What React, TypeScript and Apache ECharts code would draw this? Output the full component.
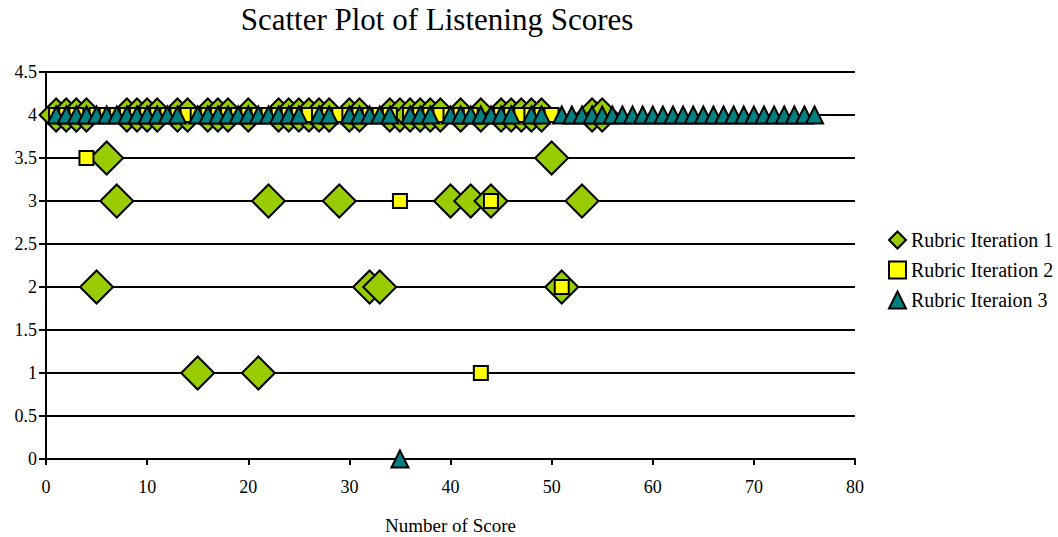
import React, { useEffect, useRef } from "react";
import * as echarts from "echarts";

const chartTitle = "Scatter Plot of Listening Scores";
const xAxisName = "Number of Score";
const seriesNames = ["Rubric Iteration 1", "Rubric Iteration 2", "Rubric Iteraion 3"];

// [number of score, score]
const iteration1: number[][] = [
  [1, 4], [2, 4], [3, 4], [4, 4], [5, 2], [6, 3.5], [7, 3], [8, 4], [9, 4], [10, 4],
  [11, 4], [13, 4], [14, 4], [15, 1], [16, 4], [17, 4], [18, 4], [20, 4], [21, 1], [22, 3],
  [23, 4], [24, 4], [25, 4], [26, 4], [27, 4], [28, 4], [29, 3], [30, 4], [31, 4], [32, 2],
  [33, 2], [34, 4], [35, 4], [36, 4], [37, 4], [38, 4], [39, 4], [40, 3], [41, 4], [42, 3],
  [43, 4], [44, 3], [45, 4], [46, 4], [47, 4], [48, 4], [49, 4], [50, 3.5], [51, 2], [53, 3],
  [54, 4], [55, 4],
];

const iteration2: number[][] = [
  [1, 4], [2, 4], [3, 4], [4, 3.5], [5, 4], [6, 4], [7, 4], [8, 4], [9, 4], [10, 4],
  [11, 4], [12, 4], [13, 4], [14, 4], [15, 4], [16, 4], [17, 4], [18, 4], [19, 4], [20, 4],
  [21, 4], [22, 4], [23, 4], [24, 4], [25, 4], [26, 4], [27, 4], [28, 4], [29, 4], [30, 4],
  [31, 4], [32, 4], [33, 4], [34, 4], [35, 3], [36, 4], [37, 4], [38, 4], [39, 4], [40, 4],
  [41, 4], [42, 4], [43, 1], [44, 3], [45, 4], [46, 4], [47, 4], [48, 4], [49, 4], [50, 4],
  [51, 2],
];

const iteration3: number[][] = [
  [1, 4], [2, 4], [3, 4], [4, 4], [5, 4], [6, 4], [7, 4], [8, 4], [9, 4], [10, 4],
  [11, 4], [12, 4], [13, 4], [15, 4], [16, 4], [17, 4], [18, 4], [19, 4], [20, 4],
  [21, 4], [22, 4], [23, 4], [24, 4], [25, 4], [27, 4], [28, 4], [30, 4],
  [31, 4], [32, 4], [33, 4], [34, 4], [35, 0], [36, 4], [37, 4], [38, 4], [40, 4],
  [41, 4], [42, 4], [43, 4], [44, 4], [45, 4], [46, 4], [48, 4], [49, 4],
  [51, 4], [52, 4], [53, 4], [54, 4], [55, 4], [56, 4], [57, 4], [58, 4], [59, 4], [60, 4],
  [61, 4], [62, 4], [63, 4], [64, 4], [65, 4], [66, 4], [67, 4], [68, 4], [69, 4], [70, 4],
  [71, 4], [72, 4], [73, 4], [74, 4], [75, 4], [76, 4],
];

const FONT = "'Liberation Serif', 'Times New Roman', serif";

export default function App() {
  const ref = useRef<HTMLDivElement>(null);
  useEffect(() => {
    if (!ref.current) return;
    const chart = echarts.init(ref.current, null, { renderer: "svg" });
    chart.setOption({
      animation: false,
      backgroundColor: "#ffffff",
      textStyle: { fontFamily: FONT },
      graphic: [
        {
          type: "text",
          x: 437,
          y: 4,
          style: {
            text: chartTitle,
            fontFamily: FONT,
            fontSize: 31,
            fill: "#000",
            textAlign: "center",
            textVerticalAlign: "top",
          },
        },
      ],
      legend: {
        orient: "vertical",
        left: 883,
        top: 225,
        itemWidth: 17,
        itemHeight: 17,
        itemGap: 10,
        textStyle: { fontFamily: FONT, fontSize: 20, lineHeight: 19, color: "#000" },
        data: seriesNames,
      },
      grid: {
        left: 46,
        right: 203,
        top: 72,
        bottom: 78,
        containLabel: false,
        outerBoundsMode: "none",
      },
      xAxis: {
        type: "value",
        min: 0,
        max: 80,
        interval: 10,
        name: xAxisName,
        nameLocation: "middle",
        nameGap: 57,
        nameTextStyle: { fontFamily: FONT, fontSize: 19, color: "#000" },
        axisLine: { show: true, lineStyle: { color: "#000", width: 2 } },
        axisTick: { show: true, length: 6, lineStyle: { color: "#000", width: 2 } },
        axisLabel: { fontFamily: FONT, fontSize: 18, color: "#000", margin: 19 },
        splitLine: { show: false },
      },
      yAxis: {
        type: "value",
        min: 0,
        max: 4.5,
        interval: 0.5,
        axisLine: { show: true, lineStyle: { color: "#000", width: 2 } },
        axisTick: { show: true, length: 7, lineStyle: { color: "#000", width: 2 } },
        axisLabel: { fontFamily: FONT, fontSize: 18, color: "#000", margin: 9 },
        splitLine: { show: true, lineStyle: { color: "#000", width: 2 } },
      },
      series: [
        {
          name: seriesNames[0],
          type: "scatter",
          symbol: "diamond",
          symbolSize: 33,
          z: 2,
          itemStyle: { color: "#99CC00", borderColor: "#000", borderWidth: 2, opacity: 1 },
          data: iteration1,
        },
        {
          name: seriesNames[1],
          type: "scatter",
          symbol: "rect",
          symbolSize: 14,
          z: 3,
          itemStyle: { color: "#FFFF00", borderColor: "#000", borderWidth: 2, opacity: 1 },
          data: iteration2,
        },
        {
          name: seriesNames[2],
          type: "scatter",
          symbol: "triangle",
          symbolSize: 17,
          z: 4,
          itemStyle: { color: "#008080", borderColor: "#000", borderWidth: 2, opacity: 1 },
          data: iteration3,
        },
      ],
    });
    return () => chart.dispose();
  }, []);
  return (
    <div
      ref={ref}
      style={{ position: "fixed", left: 0, top: 0, width: 1058, height: 537 }}
    />
  );
}
